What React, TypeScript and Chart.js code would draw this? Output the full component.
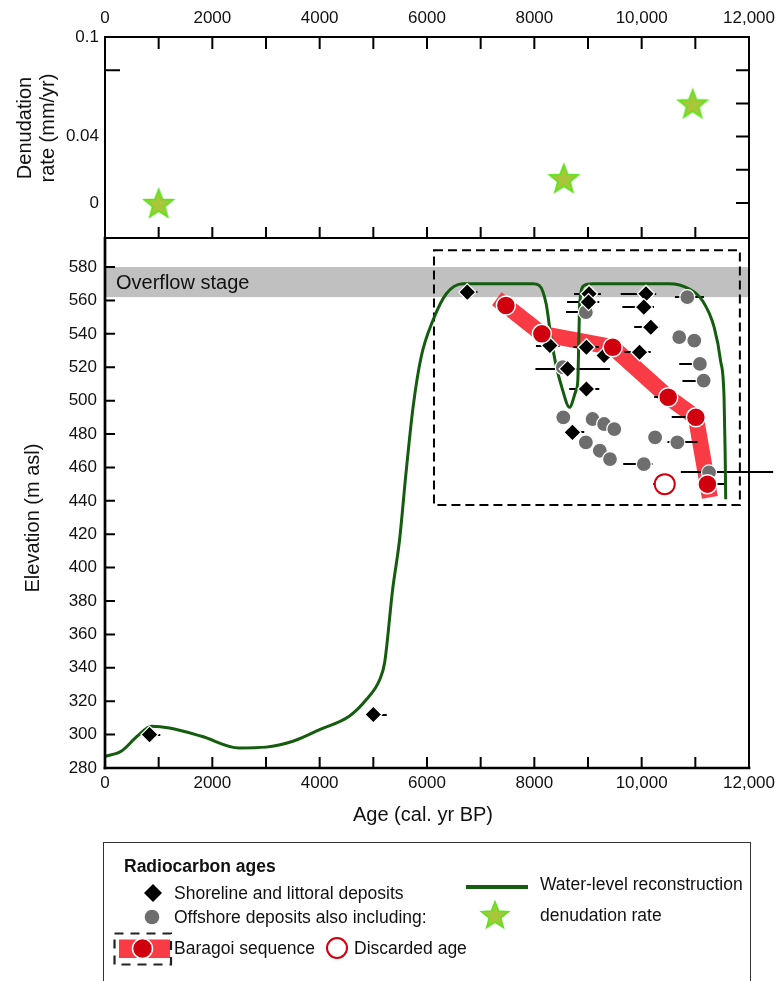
import React, { useEffect, useRef } from 'react';
import { Chart, registerables } from 'chart.js';

Chart.register(...registerables);

const FONT = '"Liberation Sans", Arial, Helvetica, sans-serif';

// ---------- axis ticks ----------
const ageLabelTicks = [0, 2000, 4000, 6000, 8000, 10000, 12000];
const ageMinorTicks = [1000, 2000, 3000, 4000, 5000, 6000, 7000, 8000, 9000, 10000, 11000];
const rateLabelTicks = [0, 0.04, 0.1];
const rateMinorTicks = [0, 0.02, 0.04, 0.06, 0.08];
const rateLeftTicks = [0.08];
const elevLabelTicks = [280, 300, 320, 340, 360, 380, 400, 420, 440, 460, 480, 500, 520, 540, 560, 580];
const elevMinorTicks = [300, 320, 340, 360, 380, 400, 420, 440, 460, 480, 500, 520, 540, 560, 580];

// ---------- denudation rate ----------
const denudAge = [1000, 8550, 10950];
const denudRate = [0.0, 0.015, 0.06];

// ---------- shoreline & littoral deposits (diamonds) ----------
const shoreAge = [830, 5000, 6750, 9020, 9010, 10080, 10040, 10170, 8290, 8970, 9300, 9960, 8620, 8970, 8710];
const shoreElev = [300, 312, 565, 564, 559, 564, 556, 544, 533, 532, 527, 529, 519, 507, 481];
const shoreErrLo = [760, 4860, 6660, 8740, 8610, 9610, 9640, 9860, 8030, 8730, 9150, 9680, 8020, 8650, 8600];
const shoreErrHi = [1030, 5250, 6940, 9240, 9210, 10270, 10230, 10330, 8470, 9200, 9450, 10170, 9410, 9210, 8930];

// ---------- offshore deposits (grey circles) ----------
const offAge = [10850, 8960, 10700, 10980, 11085, 11155, 8530, 8540, 9085, 9300, 9490, 8960, 9220, 9410, 10250, 10665, 10040, 11255];
const offElev = [562, 553, 538, 536, 522, 512, 520, 490, 489, 486, 483, 475, 470, 465, 478, 475, 462, 457];
const offErrLo = [10620, 8590, null, null, 10700, 10760, null, null, null, null, null, null, null, null, null, 10480, 9656, 10730];
const offErrHi = [11160, 9100, null, null, 11200, 11250, null, null, null, null, null, null, null, null, null, 11040, 10200, 12450];

// ---------- Baragoi sequence ----------
const barAge = [7470, 8140, 9460, 10495, 11010, 11225];
const barElev = [557, 540, 532, 502, 490, 450];
const barErrLo = [null, null, null, 10233, 10560, 11225];
const barErrHi = [null, null, null, 10495, 11010, 11570];
const bandAge = [7300, 7470, 8140, 9460, 10495, 11010, 11270];
const bandElev = [561, 557, 540, 532, 502, 490, 442];

// ---------- discarded age ----------
const discAge = [10430];
const discElev = [450];
const discErrLo = [10215];
const discErrHi = [10430];

// ---------- water-level reconstruction ----------
const wlAge = [0, 300, 600, 870, 1200, 1800, 2500, 3000, 3500, 4000, 4550, 4870, 5120, 5210, 5360, 5490, 5610, 5740, 5890, 6110, 6360, 6670, 7970, 8090, 8220, 8310, 8400, 8530, 8655, 8775, 8810, 8830, 8845, 8930, 9085, 10510, 10880, 11130, 11350, 11470, 11535, 11555, 11566];
const wlElev = [287, 290, 299, 305, 304, 299, 292, 292.5, 296, 303, 311, 321, 333, 343, 387, 417, 457, 496, 526, 548, 564, 570, 570, 569, 558, 538, 522, 506, 496, 506, 512, 538, 558, 569, 570, 570, 567, 560, 544, 524, 502, 470, 441];

// ---------- annotation regions ----------
const overflowStage = [562, 580];
const boxAge = [6130, 11830];
const boxElev = [437.5, 590];

const rateRange = [-0.0211, 0.1];
const elevRange = [280, 597.4];
const ageRange = [0, 12000];

const C = {
  green: '#145c0e',
  band: '#f93b45',
  red: '#d0000e',
  grey: '#6e6e6e',
  starFill: '#a9c63b',
  starStroke: '#5fe31e',
  overflow: '#c0c0c0',
};

const pts = (xs: number[], ys: number[]) => xs.map((x, i) => ({ x, y: ys[i] }));
const fmtAge = (v: number) => (v >= 10000 ? v.toLocaleString('en-US') : String(v));

function starPoints(cx: number, cy: number, R: number, r: number) {
  const out: [number, number][] = [];
  for (let i = 0; i < 10; i++) {
    const ang = -Math.PI / 2 + (i * Math.PI) / 5;
    const rad = i % 2 === 0 ? R : r;
    out.push([cx + rad * Math.cos(ang), cy + rad * Math.sin(ang)]);
  }
  return out;
}

function makeStar(size: number, R: number, r: number) {
  const c = document.createElement('canvas');
  c.width = size;
  c.height = size;
  const ctx = c.getContext('2d')!;
  const p = starPoints(size / 2, size / 2 + 1.5, R, r);
  ctx.beginPath();
  p.forEach(([x, y], i) => (i === 0 ? ctx.moveTo(x, y) : ctx.lineTo(x, y)));
  ctx.closePath();
  ctx.fillStyle = C.starFill;
  ctx.fill();
  ctx.lineWidth = 1.8;
  ctx.strokeStyle = C.starStroke;
  ctx.lineJoin = 'miter';
  ctx.stroke();
  return c;
}

type Side = 'top' | 'bottom' | 'left' | 'right';
type TickSpec = { side: Side; values: number[]; len: number };

function drawTickMarks(chart: any, specs: TickSpec[]) {
  const ctx = chart.ctx as CanvasRenderingContext2D;
  const a = chart.chartArea;
  const xs = chart.scales.x;
  const ys = chart.scales.y;
  ctx.save();
  ctx.setLineDash([]);
  ctx.strokeStyle = '#000000';
  ctx.lineWidth = 2;
  ctx.lineCap = 'butt';
  ctx.beginPath();
  specs.forEach((t) => {
    t.values.forEach((v) => {
      if (t.side === 'top' || t.side === 'bottom') {
        const p = xs.getPixelForValue(v);
        const y0 = t.side === 'top' ? a.top : a.bottom;
        const y1 = t.side === 'top' ? a.top + t.len : a.bottom - t.len;
        ctx.moveTo(p, y0);
        ctx.lineTo(p, y1);
      } else {
        const p = ys.getPixelForValue(v);
        const x0 = t.side === 'left' ? a.left : a.right;
        const x1 = t.side === 'left' ? a.left + t.len : a.right - t.len;
        ctx.moveTo(x0, p);
        ctx.lineTo(x1, p);
      }
    });
  });
  ctx.stroke();
  ctx.restore();
}

function drawFrame(chart: any, w: { left: number; right: number; top: number; bottom: number }) {
  const ctx = chart.ctx as CanvasRenderingContext2D;
  const a = chart.chartArea;
  ctx.save();
  ctx.setLineDash([]);
  ctx.strokeStyle = '#000000';
  ctx.lineCap = 'square';
  const seg = (x1: number, y1: number, x2: number, y2: number, lw: number) => {
    ctx.lineWidth = lw;
    ctx.beginPath();
    ctx.moveTo(x1, y1);
    ctx.lineTo(x2, y2);
    ctx.stroke();
  };
  seg(a.left, a.top, a.right, a.top, w.top);
  seg(a.right, a.top, a.right, a.bottom, w.right);
  seg(a.left, a.bottom, a.right, a.bottom, w.bottom);
  seg(a.left, a.top, a.left, a.bottom, w.left);
  ctx.restore();
}

function rotText(ctx: CanvasRenderingContext2D, s: string, x: number, y: number) {
  ctx.save();
  ctx.translate(x, y);
  ctx.rotate(-Math.PI / 2);
  ctx.textAlign = 'center';
  ctx.textBaseline = 'middle';
  ctx.fillText(s, 0, 0);
  ctx.restore();
}

const zeroPad = (s: any) => {
  s.paddingLeft = 0;
  s.paddingRight = 0;
  s.paddingTop = 0;
  s.paddingBottom = 0;
};

const tickFont = { family: FONT, size: 17 };
const noGrid = { display: false, drawTicks: false, tickLength: 0 };

export default function App() {
  const topRef = useRef<HTMLCanvasElement>(null);
  const botRef = useRef<HTMLCanvasElement>(null);

  useEffect(() => {
    const star = makeStar(34, 15, 6.4);

    const topDecor = {
      id: 'topDecor',
      afterDraw(chart: any) {
        drawTickMarks(chart, [
          { side: 'top', values: ageMinorTicks, len: 12 },
          { side: 'bottom', values: ageMinorTicks, len: 11 },
          { side: 'right', values: rateMinorTicks, len: 13 },
          { side: 'left', values: rateLeftTicks, len: 15 },
        ]);
        drawFrame(chart, { left: 2, right: 2, top: 2, bottom: 2 });
        const ctx = chart.ctx as CanvasRenderingContext2D;
        ctx.save();
        ctx.fillStyle = '#111';
        ctx.font = `20px ${FONT}`;
        rotText(ctx, 'Denudation', 25, 128);
        rotText(ctx, 'rate (mm/yr)', 48, 128);
        ctx.restore();
      },
    };

    const topChart = new Chart(topRef.current!, {
      type: 'scatter',
      data: {
        datasets: [
          {
            label: 'denudation rate',
            data: pts(denudAge, denudRate),
            pointStyle: star as any,
            pointRadius: 15,
            pointHoverRadius: 15,
          },
        ],
      },
      options: {
        animation: false,
        responsive: false,
        maintainAspectRatio: false,
        events: [],
        layout: { autoPadding: false, padding: { left: 0, right: 32, top: 0, bottom: 2 } },
        plugins: { legend: { display: false }, tooltip: { enabled: false } },
        scales: {
          x: {
            type: 'linear',
            position: 'top',
            min: ageRange[0],
            max: ageRange[1],
            grid: noGrid,
            border: { display: false },
            afterBuildTicks: (s: any) => {
              s.ticks = ageLabelTicks.map((v) => ({ value: v }));
            },
            afterFit: (s: any) => {
              s.height = 37;
              zeroPad(s);
            },
            ticks: {
              autoSkip: false,
              maxRotation: 0,
              padding: 8,
              color: '#111',
              font: tickFont,
              callback: (v: any) => fmtAge(Number(v)),
            },
          },
          y: {
            type: 'linear',
            min: rateRange[0],
            max: rateRange[1],
            grid: noGrid,
            border: { display: false },
            afterBuildTicks: (s: any) => {
              s.ticks = rateLabelTicks.map((v) => ({ value: v }));
            },
            afterFit: (s: any) => {
              s.width = 105;
              zeroPad(s);
            },
            ticks: {
              padding: 6,
              color: '#111',
              font: tickFont,
              callback: (v: any) => String(Number(v)),
            },
          },
        },
      },
      plugins: [topDecor],
    } as any);

    const errGroups = [
      { xs: shoreAge, ys: shoreElev, lo: shoreErrLo, hi: shoreErrHi },
      { xs: offAge, ys: offElev, lo: offErrLo, hi: offErrHi },
      { xs: barAge, ys: barElev, lo: barErrLo, hi: barErrHi },
      { xs: discAge, ys: discElev, lo: discErrLo, hi: discErrHi },
    ];

    const botDecor = {
      id: 'botDecor',
      beforeDatasetsDraw(chart: any) {
        const { ctx, chartArea: a, scales } = chart;
        const { x, y } = scales;
        ctx.save();
        const yT = y.getPixelForValue(overflowStage[1]);
        const yB = y.getPixelForValue(overflowStage[0]);
        ctx.fillStyle = C.overflow;
        ctx.fillRect(a.left, yT, a.right - a.left, yB - yT);
        ctx.fillStyle = '#111';
        ctx.font = `20px ${FONT}`;
        ctx.textAlign = 'left';
        ctx.textBaseline = 'middle';
        ctx.fillText('Overflow stage', a.left + 11, (yT + yB) / 2 + 1);
        ctx.setLineDash([9, 5]);
        ctx.lineWidth = 2;
        ctx.strokeStyle = '#000';
        const x0 = x.getPixelForValue(boxAge[0]);
        const x1 = x.getPixelForValue(boxAge[1]);
        const y0 = y.getPixelForValue(boxElev[1]);
        const y1 = y.getPixelForValue(boxElev[0]);
        ctx.strokeRect(x0, y0, x1 - x0, y1 - y0);
        ctx.restore();
      },
      afterDatasetDraw(chart: any, args: any) {
        if (args.index !== 0) return;
        const { ctx, scales } = chart;
        const { x, y } = scales;
        ctx.save();
        ctx.setLineDash([]);
        ctx.strokeStyle = '#000';
        ctx.lineWidth = 2;
        errGroups.forEach((g) => {
          g.xs.forEach((_, i) => {
            const lo = g.lo[i];
            const hi = g.hi[i];
            if (lo == null || hi == null) return;
            const py = Math.round(y.getPixelForValue(g.ys[i]));
            ctx.beginPath();
            ctx.moveTo(x.getPixelForValue(lo), py);
            ctx.lineTo(x.getPixelForValue(hi), py);
            ctx.stroke();
          });
        });
        ctx.restore();
      },
      afterDraw(chart: any) {
        drawTickMarks(chart, [
          { side: 'left', values: elevMinorTicks, len: 10 },
          { side: 'bottom', values: ageMinorTicks, len: 11 },
        ]);
        drawFrame(chart, { left: 2.7, right: 2, top: 2, bottom: 2.7 });
        const ctx = chart.ctx as CanvasRenderingContext2D;
        ctx.save();
        ctx.fillStyle = '#111';
        ctx.font = `20px ${FONT}`;
        rotText(ctx, 'Elevation (m asl)', 33, 288);
        ctx.textAlign = 'center';
        ctx.textBaseline = 'middle';
        ctx.fillText('Age (cal. yr BP)', 423, 585);
        ctx.restore();
      },
    };

    const botChart = new Chart(botRef.current!, {
      type: 'scatter',
      data: {
        datasets: [
          {
            label: 'Baragoi band',
            data: pts(bandAge, bandElev),
            showLine: true,
            borderColor: C.band,
            borderWidth: 16,
            borderCapStyle: 'butt',
            borderJoinStyle: 'round',
            tension: 0,
            pointRadius: 0,
            pointHoverRadius: 0,
            order: 10,
          },
          {
            label: 'Water-level reconstruction',
            data: pts(wlAge, wlElev),
            showLine: true,
            borderColor: C.green,
            borderWidth: 3,
            cubicInterpolationMode: 'monotone',
            pointRadius: 0,
            pointHoverRadius: 0,
            order: 9,
          },
          {
            label: 'Offshore deposits',
            data: pts(offAge, offElev),
            pointStyle: 'circle',
            pointRadius: 7.5,
            pointBackgroundColor: C.grey,
            pointBorderColor: '#ffffff',
            pointBorderWidth: 1.2,
            order: 8,
          },
          {
            label: 'Shoreline and littoral deposits',
            data: pts(shoreAge, shoreElev),
            pointStyle: 'rectRot',
            pointRadius: 8.5,
            pointBackgroundColor: '#000000',
            pointBorderColor: '#ffffff',
            pointBorderWidth: 1.3,
            order: 7,
          },
          {
            label: 'Baragoi sequence',
            data: pts(barAge, barElev),
            pointStyle: 'circle',
            pointRadius: 9.5,
            pointBackgroundColor: C.red,
            pointBorderColor: '#ffffff',
            pointBorderWidth: 1.5,
            order: 6,
          },
          {
            label: 'Discarded age',
            data: pts(discAge, discElev),
            pointStyle: 'circle',
            pointRadius: 10,
            pointBackgroundColor: '#ffffff',
            pointBorderColor: C.red,
            pointBorderWidth: 2,
            order: 5,
          },
        ],
      },
      options: {
        animation: false,
        responsive: false,
        maintainAspectRatio: false,
        events: [],
        layout: { autoPadding: false, padding: { left: 0, right: 32, top: 8, bottom: 0 } },
        plugins: { legend: { display: false }, tooltip: { enabled: false } },
        scales: {
          x: {
            type: 'linear',
            position: 'bottom',
            min: ageRange[0],
            max: ageRange[1],
            grid: noGrid,
            border: { display: false },
            afterBuildTicks: (s: any) => {
              s.ticks = ageLabelTicks.map((v) => ({ value: v }));
            },
            afterFit: (s: any) => {
              s.height = 72;
              zeroPad(s);
            },
            ticks: {
              autoSkip: false,
              maxRotation: 0,
              padding: 5,
              color: '#111',
              font: tickFont,
              callback: (v: any) => fmtAge(Number(v)),
            },
          },
          y: {
            type: 'linear',
            min: elevRange[0],
            max: elevRange[1],
            grid: noGrid,
            border: { display: false },
            afterBuildTicks: (s: any) => {
              s.ticks = elevLabelTicks.map((v) => ({ value: v }));
            },
            afterFit: (s: any) => {
              s.width = 105;
              zeroPad(s);
            },
            ticks: {
              padding: 8,
              color: '#111',
              font: tickFont,
              callback: (v: any) => String(Number(v)),
            },
          },
        },
      },
      plugins: [botDecor],
    } as any);

    return () => {
      topChart.destroy();
      botChart.destroy();
    };
  }, []);

  return (
    <div
      style={{
        position: 'absolute',
        left: 0,
        top: 0,
        width: 781,
        height: 981,
        overflow: 'hidden',
        background: '#ffffff',
      }}
    >
      <canvas
        ref={topRef}
        width={781}
        height={240}
        style={{ position: 'absolute', left: 0, top: 0, width: 781, height: 240 }}
      />
      <canvas
        ref={botRef}
        width={781}
        height={610}
        style={{ position: 'absolute', left: 0, top: 230, width: 781, height: 610 }}
      />
      <Legend />
    </div>
  );
}

function Txt({ x, cy, text, bold }: { x: number; cy: number; text: string; bold?: boolean }) {
  return (
    <div
      style={{
        position: 'absolute',
        left: x,
        top: cy - 12,
        height: 24,
        lineHeight: '24px',
        fontSize: 17.5,
        fontFamily: FONT,
        fontWeight: bold ? 'bold' : 'normal',
        whiteSpace: 'nowrap',
        color: '#111',
      }}
    >
      {text}
    </div>
  );
}

function Legend() {
  const sp = starPoints(495, 916, 14, 6)
    .map(([x, y]) => `${x.toFixed(1)},${y.toFixed(1)}`)
    .join(' ');
  return (
    <>
      <div
        style={{
          position: 'absolute',
          left: 103,
          top: 842,
          width: 648,
          height: 160,
          border: '1.5px solid #333',
          boxSizing: 'border-box',
        }}
      />
      <svg width={781} height={981} style={{ position: 'absolute', left: 0, top: 0, pointerEvents: 'none' }}>
        <polygon points="153,884 162,893 153,902 144,893" fill="#000" />
        <circle cx={152} cy={917} r={7.3} fill={C.grey} />
        <rect x={119} y={939.5} width={51} height={18.5} fill={C.band} />
        <rect
          x={114.5}
          y={933.5}
          width={56.5}
          height={31}
          fill="none"
          stroke="#222"
          strokeWidth={2.2}
          strokeDasharray="9 7"
        />
        <circle cx={142.5} cy={948.5} r={10} fill={C.red} stroke="#fff" strokeWidth={1.5} />
        <circle cx={337} cy={948} r={10} fill="#fff" stroke={C.red} strokeWidth={2} />
        <line x1={466} y1={887} x2={528} y2={887} stroke={C.green} strokeWidth={4} />
        <polygon points={sp} fill={C.starFill} stroke={C.starStroke} strokeWidth={1.8} />
      </svg>
      <Txt x={124} cy={866} text="Radiocarbon ages" bold />
      <Txt x={174} cy={893} text="Shoreline and littoral deposits" />
      <Txt x={174} cy={917} text="Offshore deposits also including:" />
      <Txt x={174} cy={948} text="Baragoi sequence" />
      <Txt x={354} cy={948} text="Discarded age" />
      <Txt x={540} cy={884} text="Water-level reconstruction" />
      <Txt x={540} cy={915} text="denudation rate" />
    </>
  );
}
